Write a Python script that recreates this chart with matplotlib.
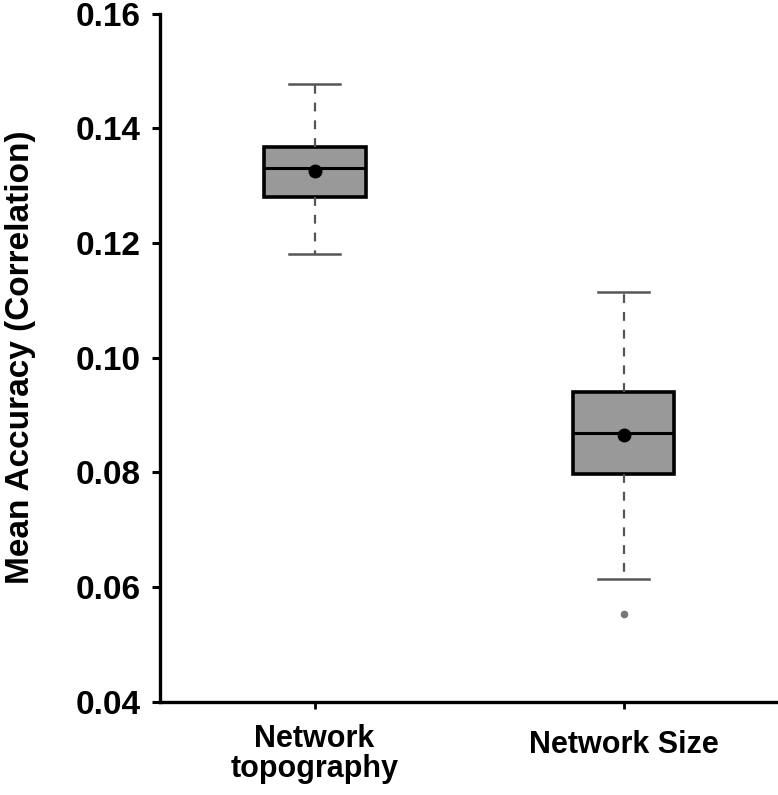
import matplotlib
matplotlib.use("Agg")
import matplotlib.pyplot as plt
from matplotlib.transforms import ScaledTranslation

# -------------------------
# Data
# -------------------------
categories = ["Network\ntopography", "Network Size"]
whisker_low = [0.1181, 0.0614]
q1 = [0.1280, 0.0797]
medians = [0.1330, 0.0869]
q3 = [0.1368, 0.0941]
whisker_high = [0.1477, 0.1114]
means = [0.1326, 0.0865]
outliers = [[], [0.0554]]

y_ticks = [0.04, 0.06, 0.08, 0.10, 0.12, 0.14, 0.16]

plt.rcParams["font.family"] = ["Liberation Sans", "DejaVu Sans"]
plt.rcParams["font.weight"] = "bold"

stats = []
for i in range(len(categories)):
    stats.append({
        "whislo": whisker_low[i], "q1": q1[i], "med": medians[i],
        "q3": q3[i], "whishi": whisker_high[i], "mean": means[i],
        "fliers": outliers[i],
    })

fig = plt.figure(figsize=(7.78, 7.95), dpi=100)
ax = fig.add_axes([0.2057, 0.117, 0.7943, 0.866])

ax.bxp(
    stats, positions=[1, 2], widths=0.33, showmeans=True, patch_artist=True,
    boxprops=dict(facecolor="#999999", edgecolor="black", linewidth=2.6),
    medianprops=dict(color="black", linewidth=2.2),
    whiskerprops=dict(color="#555555", linewidth=1.6, linestyle=(0, (4, 4))),
    capprops=dict(color="#555555", linewidth=1.8),
    meanprops=dict(marker="o", markerfacecolor="black", markeredgecolor="black",
                   markersize=9),
    flierprops=dict(marker="o", markerfacecolor="#777777", markeredgecolor="#777777",
                    markersize=4.5),
)

ax.set_xlim(0.5, 2.5)
ax.set_ylim(0.04, 0.16)
ax.set_yticks(y_ticks)
ax.set_yticklabels([f"{v:.2f}" for v in y_ticks])
ax.set_xticks([1, 2])
ax.set_xticklabels(categories, linespacing=1.0)

for s in ["top", "right"]:
    ax.spines[s].set_visible(False)
for s in ["left", "bottom"]:
    ax.spines[s].set_linewidth(2.4)

ax.tick_params(axis="y", labelsize=24, width=2.2, length=6, pad=8)
ax.tick_params(axis="x", labelsize=22, width=2.0, length=5, pad=11)
for lab in ax.get_xticklabels() + ax.get_yticklabels():
    lab.set_fontweight("bold")

# single-line label sits a little lower than the two-line one
lab2 = ax.get_xticklabels()[1]
lab2.set_transform(lab2.get_transform() + ScaledTranslation(0, -6 / 100, fig.dpi_scale_trans))

ax.set_ylabel("Mean Accuracy (Correlation)", fontsize=24, fontweight="bold")
ax.yaxis.set_label_coords(-0.2, 0.5)

fig.savefig("out.png", dpi=100)
